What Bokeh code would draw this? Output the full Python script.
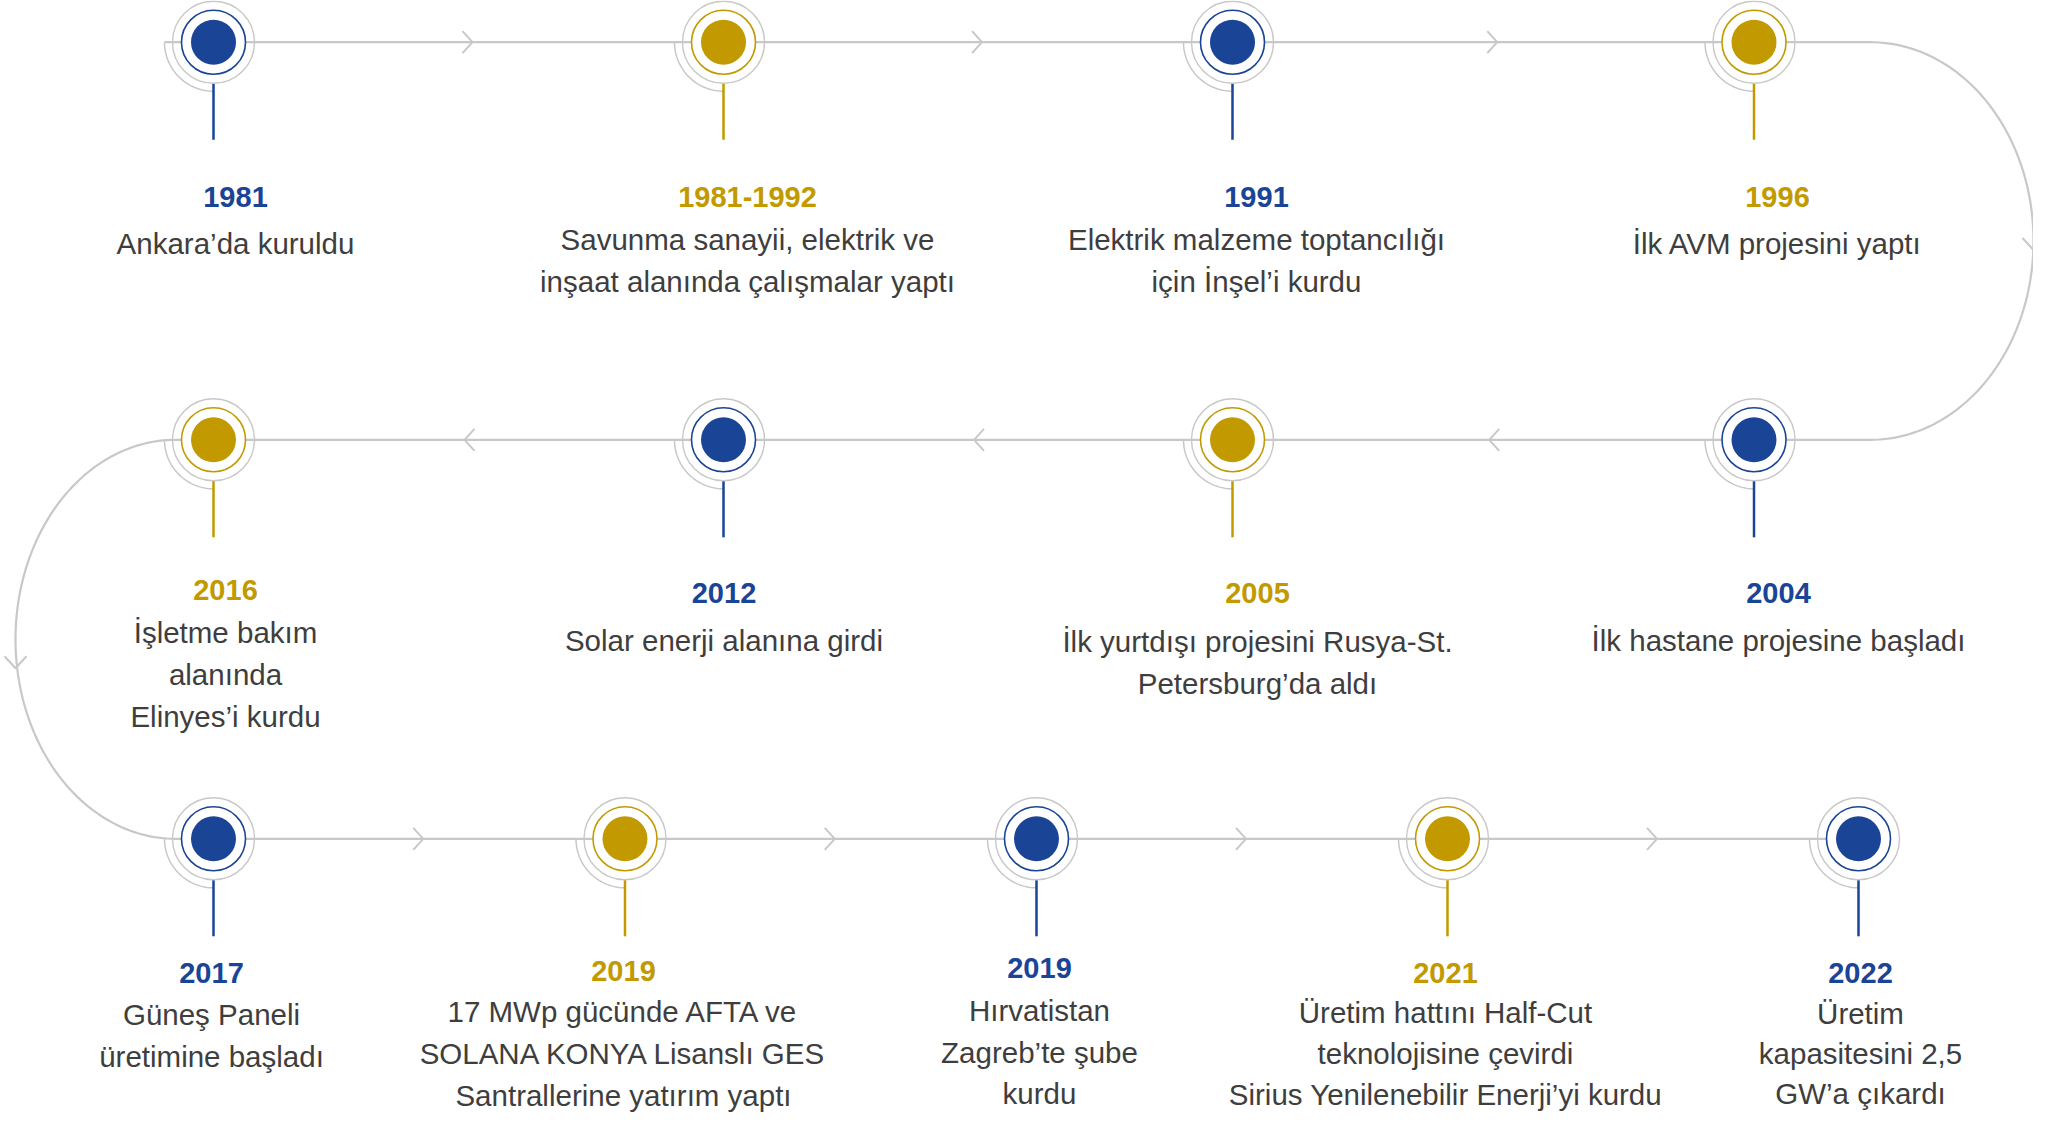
import numpy as np
from bokeh.plotting import figure
from bokeh.models import Range1d, ColumnDataSource
from bokeh.core.properties import value
from bokeh.embed import file_html
from bokeh.resources import INLINE

# ---------------- data ----------------
years = ["1981", "1981-1992", "1991", "1996",
         "2004", "2005", "2012", "2016",
         "2017", "2019", "2019", "2021", "2022"]

descriptions = [
    ["Ankara’da kuruldu"],
    ["Savunma sanayii, elektrik ve", "inşaat alanında çalışmalar yaptı"],
    ["Elektrik malzeme toptancılığı", "için İnşel’i kurdu"],
    ["İlk AVM projesini yaptı"],
    ["İlk hastane projesine başladı"],
    ["İlk yurtdışı projesini Rusya-St.", "Petersburg’da aldı"],
    ["Solar enerji alanına girdi"],
    ["İşletme bakım", "alanında", "Elinyes’i kurdu"],
    ["Güneş Paneli", "üretimine başladı"],
    ["17 MWp gücünde AFTA ve", "SOLANA KONYA Lisanslı GES", "Santrallerine yatırım yaptı"],
    ["Hırvatistan", "Zagreb’te şube", "kurdu"],
    ["Üretim hattını Half-Cut", "teknolojisine çevirdi", "Sirius Yenilenebilir Enerji’yi kurdu"],
    ["Üretim", "kapasitesini 2,5", "GW’a çıkardı"],
]

categories = ["blue", "gold", "blue", "gold",
              "blue", "gold", "blue", "gold",
              "blue", "gold", "blue", "gold", "blue"]

# ---------------- layout (screen pixels) ----------------
palette = {"blue": "#1A4496", "gold": "#C29A00"}
GRAY = "#C8C8C8"
TEXT = "#3E3E3E"

W, H = 2033, 1115

row_y = [41.7, 439.3, 838.3]
node_row = [0, 0, 0, 0, 1, 1, 1, 1, 2, 2, 2, 2, 2]
node_x = [213, 723, 1232, 1753.5,
          1753.5, 1232, 723, 213,
          213, 624.5, 1036, 1447, 1858]
text_x = [235, 747, 1256, 1777,
          1778, 1257, 723.5, 225,
          211, 623, 1039, 1445, 1860]
year_y = [196, 196, 196, 196,
          592, 592, 592, 589,
          972, 970, 967, 972, 972]
body_y0 = [243, 239, 239, 243,
           640, 641, 640, 632,
           1014, 1011, 1010, 1012, 1013]
body_gap = [42] * 10 + [41.5, 41, 40]

node_y = [row_y[r] for r in node_row]
colors = [palette[c] for c in categories]

p = figure(width=W, height=H,
           x_range=Range1d(0, W), y_range=Range1d(H, 0),
           output_backend="svg", toolbar_location=None,
           min_border=0, outline_line_color=None,
           background_fill_color="white", border_fill_color="white")
p.axis.visible = False
p.grid.visible = False

# ---------------- connecting path ----------------
line_start = node_x[0] - 49
r_cx, r_rx = 1870, 163
l_cx, l_rx = 175, 160

t = np.linspace(-np.pi / 2, np.pi / 2, 120)
r_cy = (row_y[0] + row_y[1]) / 2
r_ry = (row_y[1] - row_y[0]) / 2
rx_pts = r_cx + r_rx * np.cos(t)
ry_pts = r_cy + r_ry * np.sin(t)

t2 = np.linspace(3 * np.pi / 2, np.pi / 2, 120)
l_cy = (row_y[1] + row_y[2]) / 2
l_ry = (row_y[2] - row_y[1]) / 2
lx_pts = l_cx + l_rx * np.cos(t2)
ly_pts = l_cy + l_ry * np.sin(t2)

path_x = [line_start] + list(rx_pts) + list(lx_pts) + [node_x[-1]]
path_y = [row_y[0]] + list(ry_pts) + list(ly_pts) + [row_y[2]]
p.line(path_x, path_y, line_color=GRAY, line_width=2.2)

# ---------------- chevrons ----------------
cxs, cys = [], []
for i in range(len(node_x) - 1):
    if node_row[i] != node_row[i + 1]:
        continue
    mx = (node_x[i] + node_x[i + 1]) / 2
    y = node_y[i]
    d = 1 if node_x[i + 1] > node_x[i] else -1
    tip = mx + 4 * d
    cxs.append([tip - 10 * d, tip, tip - 10 * d])
    cys.append([y - 11, y, y + 11])
# downward chevrons on the two bends
for (bx, by) in [(r_cx + r_rx, r_cy + 9), (l_cx - l_rx, l_cy + 29)]:
    cxs.append([bx - 11, bx, bx + 11])
    cys.append([by - 12, by, by - 12])
p.multi_line(cxs, cys, line_color=GRAY, line_width=2)

# ---------------- nodes ----------------
arc_t = np.linspace(np.pi / 2, np.pi, 40)
axs = [list(x + 49 * np.cos(arc_t)) for x in node_x]
ays = [list(y + 49 * np.sin(arc_t)) for y in node_y]
p.multi_line(axs, ays, line_color=GRAY, line_width=1.5)

src = ColumnDataSource(dict(x=node_x, y=node_y, c=colors,
                            y0=[y + 41 for y in node_y],
                            y1=[y + 97.5 for y in node_y]))
p.segment(x0="x", y0="y0", x1="x", y1="y1", source=src,
          line_color="c", line_width=2.5)
p.scatter("x", "y", source=src, size=82, fill_color=None,
          line_color=GRAY, line_width=1.4)
p.scatter("x", "y", source=src, size=64, fill_color="white",
          line_color="c", line_width=1.6)
p.scatter("x", "y", source=src, size=45, fill_color="c", line_color=None)

# ---------------- texts ----------------
ysrc = ColumnDataSource(dict(x=text_x, y=year_y, t=years, c=colors))
p.text("x", "y", text="t", source=ysrc, text_color="c",
       text_align="center", text_baseline="middle",
       text_font=value("Liberation Sans"), text_font_style="bold",
       text_font_size="29px")

bx, by, bt = [], [], []
for i, lines in enumerate(descriptions):
    for j, ln in enumerate(lines):
        bx.append(text_x[i])
        by.append(body_y0[i] + j * body_gap[i])
        bt.append(ln)
bsrc = ColumnDataSource(dict(x=bx, y=by, t=bt))
p.text("x", "y", text="t", source=bsrc, text_color=TEXT,
       text_align="center", text_baseline="middle",
       text_font=value("Liberation Sans"), text_font_size="29.5px")

open("out.html", "w").write(file_html(p, INLINE))
